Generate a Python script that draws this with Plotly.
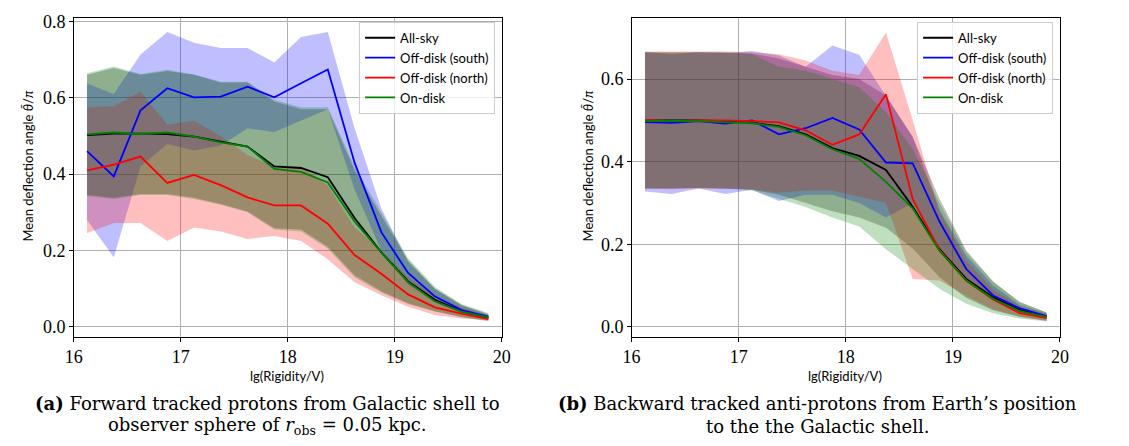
import plotly.graph_objects as go

# ---------------- data ----------------
lg_rigidity = [16.125, 16.375, 16.625, 16.875, 17.125, 17.375, 17.625, 17.875,
               18.125, 18.375, 18.625, 18.875, 19.125, 19.375, 19.625, 19.875]

series_names = ["All-sky", "Off-disk (south)", "Off-disk (north)", "On-disk"]

# (a) forward tracked protons
a_allsky = [0.502, 0.506, 0.506, 0.505, 0.498, 0.485, 0.472, 0.420, 0.416, 0.392, 0.285, 0.195, 0.119, 0.071, 0.041, 0.024]
a_south  = [0.460, 0.394, 0.567, 0.625, 0.601, 0.603, 0.629, 0.601, 0.638, 0.674, 0.430, 0.248, 0.141, 0.080, 0.044, 0.027]
a_north  = [0.410, 0.425, 0.446, 0.377, 0.398, 0.371, 0.339, 0.318, 0.318, 0.270, 0.188, 0.139, 0.085, 0.051, 0.035, 0.020]
a_ondisk = [0.504, 0.509, 0.505, 0.509, 0.498, 0.483, 0.472, 0.414, 0.406, 0.378, 0.276, 0.195, 0.117, 0.067, 0.040, 0.025]

a_allsky_hi = [0.660, 0.678, 0.660, 0.670, 0.660, 0.640, 0.640, 0.590, 0.570, 0.570, 0.410, 0.290, 0.175, 0.100, 0.058, 0.034]
a_allsky_lo = [0.345, 0.338, 0.348, 0.348, 0.338, 0.322, 0.302, 0.258, 0.255, 0.210, 0.135, 0.093, 0.062, 0.041, 0.026, 0.016]
a_south_hi  = [0.637, 0.610, 0.713, 0.772, 0.744, 0.730, 0.730, 0.692, 0.759, 0.772, 0.520, 0.310, 0.170, 0.100, 0.055, 0.032]
a_south_lo  = [0.280, 0.182, 0.420, 0.479, 0.462, 0.475, 0.520, 0.510, 0.540, 0.570, 0.360, 0.200, 0.110, 0.065, 0.036, 0.022]
a_north_hi  = [0.575, 0.578, 0.616, 0.530, 0.540, 0.500, 0.450, 0.420, 0.420, 0.370, 0.260, 0.200, 0.130, 0.080, 0.050, 0.030]
a_north_lo  = [0.245, 0.272, 0.272, 0.225, 0.260, 0.250, 0.230, 0.238, 0.225, 0.177, 0.117, 0.083, 0.053, 0.031, 0.022, 0.018]
a_ondisk_hi = [0.664, 0.682, 0.662, 0.673, 0.661, 0.642, 0.642, 0.595, 0.575, 0.575, 0.420, 0.300, 0.180, 0.105, 0.060, 0.036]
a_ondisk_lo = [0.343, 0.335, 0.345, 0.345, 0.335, 0.320, 0.300, 0.255, 0.250, 0.205, 0.130, 0.090, 0.060, 0.040, 0.025, 0.015]

# (b) backward tracked anti-protons
b_allsky = [0.500, 0.500, 0.500, 0.498, 0.494, 0.486, 0.466, 0.433, 0.414, 0.380, 0.291, 0.188, 0.116, 0.072, 0.041, 0.025]
b_south  = [0.496, 0.494, 0.498, 0.492, 0.500, 0.466, 0.481, 0.506, 0.478, 0.398, 0.396, 0.255, 0.140, 0.076, 0.045, 0.026]
b_north  = [0.501, 0.498, 0.500, 0.500, 0.498, 0.495, 0.476, 0.441, 0.466, 0.563, 0.309, 0.186, 0.112, 0.066, 0.033, 0.021]
b_ondisk = [0.498, 0.499, 0.498, 0.496, 0.493, 0.484, 0.464, 0.430, 0.407, 0.351, 0.287, 0.184, 0.112, 0.068, 0.038, 0.024]

b_allsky_hi = [0.665, 0.665, 0.665, 0.665, 0.662, 0.650, 0.630, 0.610, 0.600, 0.560, 0.460, 0.310, 0.185, 0.110, 0.060, 0.035]
b_allsky_lo = [0.335, 0.335, 0.336, 0.335, 0.332, 0.320, 0.300, 0.280, 0.265, 0.240, 0.190, 0.120, 0.070, 0.040, 0.024, 0.015]
b_south_hi  = [0.665, 0.660, 0.665, 0.663, 0.668, 0.657, 0.630, 0.681, 0.659, 0.560, 0.460, 0.283, 0.172, 0.100, 0.053, 0.033]
b_south_lo  = [0.328, 0.322, 0.335, 0.322, 0.332, 0.305, 0.320, 0.320, 0.300, 0.265, 0.300, 0.190, 0.110, 0.065, 0.035, 0.020]
b_north_hi  = [0.667, 0.667, 0.668, 0.667, 0.665, 0.660, 0.645, 0.620, 0.610, 0.713, 0.500, 0.280, 0.160, 0.090, 0.050, 0.030]
b_north_lo  = [0.335, 0.333, 0.335, 0.334, 0.333, 0.325, 0.330, 0.330, 0.315, 0.300, 0.116, 0.112, 0.075, 0.042, 0.025, 0.015]
b_ondisk_hi = [0.665, 0.664, 0.665, 0.664, 0.660, 0.630, 0.620, 0.600, 0.580, 0.520, 0.430, 0.300, 0.180, 0.110, 0.060, 0.035]
b_ondisk_lo = [0.335, 0.335, 0.337, 0.335, 0.330, 0.310, 0.290, 0.265, 0.243, 0.188, 0.140, 0.092, 0.056, 0.033, 0.020, 0.013]

x_ticks = [16, 17, 18, 19, 20]
a_y_ticks = [0.0, 0.2, 0.4, 0.6, 0.8]
b_y_ticks = [0.0, 0.2, 0.4, 0.6]

# ---------------- styling ----------------
line_colors = ["#000000", "#0000ff", "#ff0000", "#008000"]
fill_colors = ["rgba(0,0,0,0.25)", "rgba(0,0,255,0.25)", "rgba(255,0,0,0.25)", "rgba(0,128,0,0.25)"]

W, H = 1129, 446
SERIF = "Liberation Serif"
CAPSERIF = "DejaVu Serif"
SANS = "Lato"

fig = go.Figure()

panels = [
    ("x", "y", "legend", [a_allsky, a_south, a_north, a_ondisk],
     [(a_allsky_lo, a_allsky_hi), (a_south_lo, a_south_hi), (a_north_lo, a_north_hi), (a_ondisk_lo, a_ondisk_hi)]),
    ("x2", "y2", "legend2", [b_allsky, b_south, b_north, b_ondisk],
     [(b_allsky_lo, b_allsky_hi), (b_south_lo, b_south_hi), (b_north_lo, b_north_hi), (b_ondisk_lo, b_ondisk_hi)]),
]

for xa, ya, leg, means, bands in panels:
    for i, (lo, hi) in enumerate(bands):
        fig.add_trace(go.Scatter(
            x=lg_rigidity + lg_rigidity[::-1], y=hi + lo[::-1],
            fill="toself", fillcolor=fill_colors[i], line=dict(width=0),
            mode="lines", hoverinfo="skip", showlegend=False, xaxis=xa, yaxis=ya))
    for i, m in enumerate(means):
        fig.add_trace(go.Scatter(
            x=lg_rigidity, y=m, mode="lines", name=series_names[i],
            line=dict(color=line_colors[i], width=1.8),
            xaxis=xa, yaxis=ya, legend=leg))

def px_x(p):
    return p / W

def px_y(p):
    return 1 - p / H

ax_common = dict(showline=True, mirror=True, linecolor="black", linewidth=1.2,
                 ticks="outside", ticklen=3.5, tickcolor="black",
                 showgrid=True, gridcolor="#b0b0b0", gridwidth=1, zeroline=False,
                 tickfont=dict(family=SERIF, size=18, color="black"))

leg_common = dict(xanchor="right", yanchor="top",
                  bgcolor="rgba(255,255,255,0.8)", bordercolor="#cccccc", borderwidth=1,
                  font=dict(family=SANS, size=13, color="black"), itemwidth=30, tracegroupgap=0)

fig.update_layout(
    width=W, height=H, margin=dict(l=0, r=0, t=0, b=0),
    plot_bgcolor="white", paper_bgcolor="white",
    xaxis=dict(domain=[px_x(65.7), px_x(500.7)], range=[16, 20], tickvals=x_ticks, anchor="y", **ax_common),
    yaxis=dict(domain=[px_y(335.7), px_y(11.7)], range=[-0.027, 0.81], tickvals=a_y_ticks, tickformat=".1f", anchor="x", **ax_common),
    xaxis2=dict(domain=[px_x(632.7), px_x(1068)], range=[16, 20], tickvals=x_ticks, anchor="y2", **ax_common),
    yaxis2=dict(domain=[px_y(335.7), px_y(11.7)], range=[-0.025, 0.749], tickvals=b_y_ticks, tickformat=".1f", anchor="x2", **ax_common),
    legend=dict(x=px_x(494), y=px_y(16), **leg_common),
    legend2=dict(x=px_x(1061), y=px_y(16), **leg_common),
)

ytitle = "Mean deflection angle <i>θ̄</i>/<i>π</i>"
annos = [
    dict(x=px_x(19), y=px_y(162), text=ytitle, textangle=-90, font=dict(family=SANS, size=13)),
    dict(x=px_x(588), y=px_y(162), text=ytitle, textangle=-90, font=dict(family=SANS, size=13)),
    dict(x=px_x(283), y=px_y(375), text="lg(Rigidity/V)", font=dict(family=SANS, size=13)),
    dict(x=px_x(850), y=px_y(375), text="lg(Rigidity/V)", font=dict(family=SANS, size=13)),
    dict(x=px_x(263), y=px_y(403), text="<b>(a)</b> Forward tracked protons from Galactic shell to", font=dict(family=CAPSERIF, size=18)),
    dict(x=px_x(263), y=px_y(426), text="observer sphere of <i>r</i><sub>obs</sub> = 0.05 kpc.", font=dict(family=CAPSERIF, size=18)),
    dict(x=px_x(822), y=px_y(403), text="<b>(b)</b> Backward tracked anti-protons from Earth’s position", font=dict(family=CAPSERIF, size=18)),
    dict(x=px_x(822), y=px_y(426), text="to the the Galactic shell.", font=dict(family=CAPSERIF, size=18)),
]
for a in annos:
    a.update(xref="paper", yref="paper", showarrow=False, xanchor="center", yanchor="middle")
    a["font"]["color"] = "black"
fig.update_layout(annotations=annos)

fig.write_html("out.html")
